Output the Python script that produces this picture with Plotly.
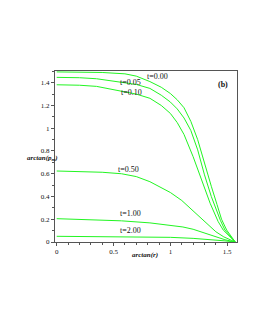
import plotly.graph_objects as go

# Data: arctan(p_m) versus arctan(r) for several times t
t_labels = ["t=0.00", "t=0.05", "t=0.10", "t=0.50", "t=1.00", "t=2.00"]

x_t000 = [0, 0.2, 0.4, 0.6, 0.7, 0.82, 0.92, 1.0, 1.06, 1.12, 1.18, 1.24, 1.30, 1.36, 1.41, 1.45, 1.495, 1.5708]
y_t000 = [1.495, 1.494, 1.49, 1.478, 1.458, 1.41, 1.36, 1.305, 1.25, 1.18, 1.06, 0.90, 0.69, 0.49, 0.33, 0.20, 0.105, 0.0]

x_t005 = [0, 0.2, 0.35, 0.57, 0.7, 0.82, 0.92, 1.0, 1.06, 1.12, 1.18, 1.24, 1.30, 1.36, 1.41, 1.44, 1.48, 1.5708]
y_t005 = [1.447, 1.444, 1.435, 1.406, 1.385, 1.35, 1.29, 1.23, 1.17, 1.09, 0.98, 0.81, 0.59, 0.40, 0.26, 0.19, 0.105, 0.0]

x_t010 = [0, 0.2, 0.35, 0.57, 0.7, 0.82, 0.92, 1.0, 1.06, 1.12, 1.2, 1.275, 1.35, 1.42, 1.465, 1.5708]
y_t010 = [1.382, 1.378, 1.368, 1.327, 1.30, 1.263, 1.20, 1.13, 1.05, 0.945, 0.75, 0.545, 0.34, 0.18, 0.105, 0.0]

x_t050 = [0, 0.2, 0.4, 0.57, 0.7, 0.82, 0.92, 1.0, 1.1, 1.17, 1.25, 1.32, 1.4, 1.47, 1.5708]
y_t050 = [0.624, 0.621, 0.613, 0.60, 0.575, 0.53, 0.48, 0.435, 0.365, 0.30, 0.23, 0.165, 0.09, 0.045, 0.0]

x_t100 = [0, 0.3, 0.57, 0.82, 1.0, 1.11, 1.2, 1.3, 1.4, 1.48, 1.5708]
y_t100 = [0.205, 0.198, 0.186, 0.168, 0.148, 0.132, 0.112, 0.08, 0.045, 0.02, 0.0]

x_t200 = [0, 0.4, 0.8, 1.0, 1.2, 1.35, 1.48, 1.5708]
y_t200 = [0.050, 0.049, 0.045, 0.041, 0.032, 0.022, 0.01, 0.0]

series_x = [x_t000, x_t005, x_t010, x_t050, x_t100, x_t200]
series_y = [y_t000, y_t005, y_t010, y_t050, y_t100, y_t200]

y_ticks = [0, 0.2, 0.4, 0.6, 0.8, 1, 1.2, 1.4]
y_ticktext = ["0", "0.2", "0.4", "0.6", "0.8", "1", "1.2", "1.4"]
x_ticks = [0, 0.5, 1, 1.5]
x_ticktext = ["0", "0.5", "1", "1.5"]

# label anchor positions (layout)
label_pos = [(0.89, 1.455), (0.645, 1.403), (0.66, 1.315), (0.63, 0.639), (0.645, 0.252), (0.645, 0.105)]

SERIF = "Liberation Serif, Times New Roman, serif"
GREEN = "#22f522"
FRAME = "#555555"

fig = go.Figure()
for xs, ys, name in zip(series_x, series_y, t_labels):
    fig.add_trace(go.Scatter(x=xs, y=ys, mode="lines", name=name,
                             line=dict(color=GREEN, width=1), showlegend=False))

for (lx, ly), txt in zip(label_pos, t_labels):
    fig.add_annotation(x=lx, y=ly, text=txt, showarrow=False,
                       font=dict(family=SERIF, size=8, color="#111111"))

fig.add_annotation(x=1.461, y=1.386, text="<b>(b)</b>", showarrow=False,
                   font=dict(family=SERIF, size=8, color="#111111"))

fig.add_annotation(xref="paper", yref="paper", x=-0.165, y=0.489,
                   text="<b><i>arctan(p<sub>m</sub>)</i></b>", showarrow=False,
                   font=dict(family=SERIF, size=7, color="#111111"))
fig.add_annotation(xref="paper", yref="paper", x=0.496, y=-0.11,
                   text="<b><i>arctan(r)</i></b>", showarrow=False,
                   font=dict(family=SERIF, size=7, color="#111111"))

axis_common = dict(showgrid=False, zeroline=False, showline=True, linecolor=FRAME,
                   linewidth=1, mirror=True, ticks="outside", ticklen=3,
                   tickcolor=FRAME, tickwidth=1,
                   tickfont=dict(family=SERIF, size=7, color="#111111"))

fig.update_xaxes(range=[-0.015, 1.586], tickvals=x_ticks, ticktext=x_ticktext,
                 minor=dict(dtick=0.1, tick0=0, ticks="outside", ticklen=2, tickcolor=FRAME),
                 **axis_common)
fig.update_yaxes(range=[0, 1.503], tickvals=y_ticks, ticktext=y_ticktext,
                 minor=dict(dtick=0.1, tick0=0, ticks="outside", ticklen=2, tickcolor=FRAME),
                 **axis_common)

fig.update_layout(width=247, height=322,
                  margin=dict(l=47, r=18, t=63, b=88),
                  paper_bgcolor="white", plot_bgcolor="white")

fig.write_html("out.html")
